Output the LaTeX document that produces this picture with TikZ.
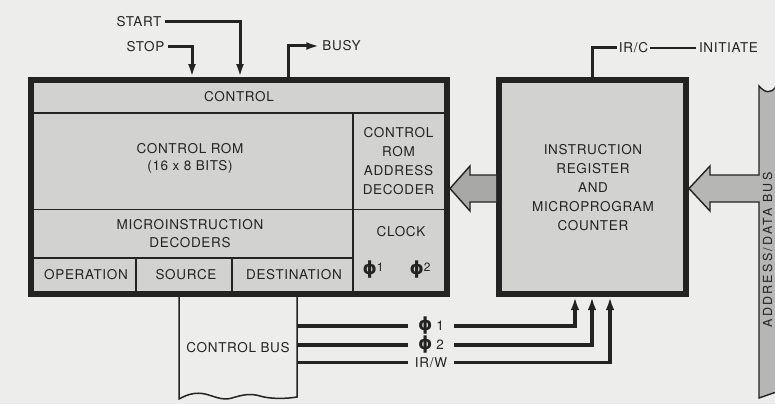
\documentclass[tikz,border=0pt]{standalone}
\usepackage{fontspec}
\setmainfont{TeX Gyre Heros}[LetterSpace=5]
\newfontfamily\phifont{DejaVu Sans}
\usetikzlibrary{arrows.meta}
\definecolor{pagebg}{RGB}{237,237,235}
\definecolor{boxfill}{RGB}{210,210,208}
\definecolor{busfill}{RGB}{182,182,180}
\definecolor{arrfill}{RGB}{168,168,166}
\definecolor{ink}{RGB}{35,35,35}
\newcommand{\phisym}{{\phifont\bfseries\fontsize{18}{18}\selectfont ϕ}}
\newcommand{\smallidx}[1]{\raisebox{3pt}{\fontsize{12}{12}\selectfont #1}}
\begin{document}
\begin{tikzpicture}[x=1pt,y=-1pt,
  every node/.style={font=\fontsize{13.5}{19}\selectfont, text=ink},
  bigbox/.style={draw=ink, line width=6pt, fill=boxfill, inner sep=0pt},
  divider/.style={draw=ink, line width=1.8pt},
  sig/.style={draw=ink, line width=3pt},
  sigarrow/.style={sig, -{Latex[length=13pt,width=8pt]}},
  busline/.style={draw=ink, line width=3.4pt},
  busarrow/.style={busline, -{Latex[length=13pt,width=8.5pt]}},
  fat/.style={draw=ink, line width=1.4pt, fill=arrfill},
  lbl/.style={inner xsep=3pt, inner ysep=0pt, text height=9.7pt, text depth=0pt},
  plbl/.style={inner sep=0pt, minimum width=46pt, text height=9.7pt, text depth=0pt},
  multi/.style={align=center}
]
\useasboundingbox (0,0) rectangle (775,404);
\clip (0,0) rectangle (775,404);
\fill[pagebg] (0,0) rectangle (775,404);

% main blocks
\node[bigbox, minimum width=416pt, minimum height=214pt] (ctrl) at (239,187) {};
\node[bigbox, minimum width=187pt, minimum height=214pt] (irb) at (592.5,187) {};

% dividers inside control block
\draw[divider] (34,113) -- (444,113);
\draw[divider] (353,113) -- (353,291);
\draw[divider] (34,209.5) -- (444,209.5);
\draw[divider] (34,258) -- (353,258);
\draw[divider] (136,258) -- (136,291);
\draw[divider] (232,258) -- (232,291);

% texts in control block
\node (tcontrol) at (239,97) {CONTROL};
\node[multi, font=\fontsize{13.5}{17}\selectfont] (trom) at (190,158) {CONTROL ROM\\(16 x 8 BITS)};
\node[multi] (tdec) at (398.5,161.5) {CONTROL\\ROM\\ADDRESS\\DECODER};
\node[multi, font=\fontsize{13.5}{18}\selectfont] (tmicro) at (190,234) {MICROINSTRUCTION\\DECODERS};
\node (topn) at (86,275) {OPERATION};
\node (tsrc) at (186,275) {SOURCE};
\node (tdst) at (294,275) {DESTINATION};
\node (tclock) at (401,232) {CLOCK};
\node (tp1) at (373,270) {\phisym\smallidx{1}};
\node (tp2) at (420,270) {\phisym\smallidx{2}};

% instruction register text
\node[multi] (tir) at (593,188) {INSTRUCTION\\REGISTER\\AND\\MICROPROGRAM\\COUNTER};

% top signals
\node[lbl] (start) at (139,22) {START};
\node[lbl] (stop) at (145.5,47) {STOP};
\node[lbl] (busy) at (341.5,46) {BUSY};
\node[lbl, inner xsep=1.5pt] (irc) at (633.5,48) {IR/C};
\node[lbl] (init) at (728.5,48) {INITIATE};
\coordinate (xstart) at (240,0);
\coordinate (xstop) at (192,0);
\coordinate (xbusy) at (288,0);
\coordinate (xirc) at (592,0);
\draw[sigarrow] (start.east) -| (xstart |- ctrl.north);
\draw[sigarrow] (stop.east) -| (xstop |- ctrl.north);
\draw[sigarrow] (xbusy |- ctrl.north) |- (busy.west);
\draw[sig] (xirc |- irb.north) |- (irc.west);
\draw[ink, line width=1.2pt] (irc.east) -- (init.west);

% wide arrow IR -> control ROM address decoder
\path[fat] (irb.west |- 0,175) -- (470,175) -- (470,166) -- (ctrl.east |- 0,188.5) -- (470,211) -- (470,202) -- (irb.west |- 0,202);

% address/data bus with wide arrow into IR
\path[draw=ink, line width=1.4pt, fill=busfill]
  (782,84) -- (776,86.5) .. controls (771,94) and (765,93) .. (759,86)
  -- (759,175) -- (710,175) -- (710,166) -- (irb.east |- 0,188.5) -- (710,211) -- (710,202) -- (759,202)
  -- (759,398) -- (782,390) -- cycle;
\node[rotate=90, inner sep=1pt, font=\fontsize{12.5}{19}\addfontfeature{LetterSpace=18}\selectfont] (adbus) at (767.5,250) {ADDRESS/DATA BUS};

% control bus
\path[draw=ink, line width=1.5pt, fill=pagebg]
  (179,297) -- (179,399) .. controls (188,394) and (196,392) .. (205,394)
  .. controls (214,396) and (222,401) .. (232,398)
  .. controls (242,395) and (250,393) .. (260,396)
  .. controls (270,399) and (285,399) .. (297,397) -- (297,297);
\node (cbus) at (238,348) {CONTROL BUS};
\coordinate (cb1) at (297,326);
\coordinate (cb2) at (297,345);
\coordinate (cb3) at (297,362.5);
\node[plbl] (l1) at (431,326) {\phisym\hspace{4pt}1};
\node[plbl] (l2) at (431,345) {\phisym\hspace{4pt}2};
\node[plbl] (l3) at (431,362.5) {IR/W};
\coordinate (x1) at (575,0);
\coordinate (x2) at (592,0);
\coordinate (x3) at (610,0);
\draw[busline] (cb1) -- (l1.west);
\draw[busline] (cb2) -- (l2.west);
\draw[busline] (cb3) -- (l3.west);
\draw[busarrow] (l1.east) -| (x1 |- irb.south);
\draw[busarrow] (l2.east) -| (x2 |- irb.south);
\draw[busarrow] (l3.east) -| (x3 |- irb.south);
\end{tikzpicture}
\end{document}
